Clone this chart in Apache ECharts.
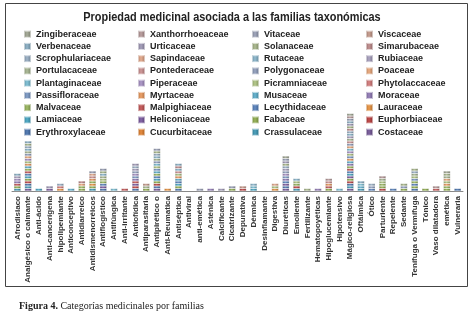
<!DOCTYPE html>
<html>
<head>
<meta charset="utf-8">
<script src="https://cdn.jsdelivr.net/npm/echarts@6/dist/echarts.min.js"></script>
<style>
  html, body { margin: 0; padding: 0; background: #fff; }
  #chart { width: 476px; height: 313px; }
</style>
</head>
<body>
<div id="chart"></div>
<script>
// categorias del eje x
var categorias = ['Afrodisiaco', 'Analgésico o calmante', 'Anti-ácido', 'Anti-cancerígena', 'hipolipemiante',
  'Anticonceptivo', 'Antidiarreico', 'Antidismenorréicos', 'Antiflogístico', 'Antifúngica', 'Anti-irritante',
  'Antiofídica', 'Antiparasitaria', 'Antipirético o', 'Anti-Reumatica', 'Antiséptica', 'Antiviral',
  'anti-emética', 'Asténica', 'Calcificante', 'Cicatrizante', 'Depurativa', 'Dérmica', 'Desinflamante',
  'Digestiva', 'Diuréticas', 'Emoliente', 'Fertilizante', 'Hematopoyéticas', 'Hipoglucemiante', 'Hipotensivo',
  'Mágico-religiosa', 'Oftálmica', 'Ótico', 'Parturiente', 'Repelente', 'Sedante', 'Tenífuga o Vermífuga',
  'Tónico', 'Vaso dilatadora', 'emética', 'Vulneraria'];

// familias (orden de apilado, de abajo hacia arriba)
var familias = ['Costaceae', 'Crassulaceae', 'Cucurbitaceae', 'Erythroxylaceae', 'Euphorbiaceae', 'Fabaceae',
  'Heliconiaceae', 'Lamiaceae', 'Lauraceae', 'Lecythidaceae', 'Malpighiaceae', 'Malvaceae', 'Moraceae',
  'Musaceae', 'Myrtaceae', 'Passifloraceae', 'Phytolaccaceae', 'Picramniaceae', 'Piperaceae', 'Plantaginaceae',
  'Poaceae', 'Polygonaceae', 'Pontederaceae', 'Portulacaceae', 'Rubiaceae', 'Rutaceae', 'Sapindaceae',
  'Scrophulariaceae', 'Simarubaceae', 'Solanaceae', 'Urticaceae', 'Verbenaceae', 'Viscaceae', 'Vitaceae',
  'Xanthorrhoeaceae', 'Zingiberaceae'];

var colores = ['#6a4a90', '#3090b0', '#e07820', '#3a68a8', '#b83030', '#88a840',
  '#704c98', '#38a0c0', '#e88a30', '#4a78b8', '#c04848', '#90b050', '#8870b0',
  '#50a8c8', '#e89050', '#7090c0', '#d07070', '#a8c078', '#a088c0', '#70b8d0',
  '#e8a070', '#8898b8', '#c88888', '#a0b088', '#a098b8', '#80b0c8', '#e0a080',
  '#90a8c0', '#b88080', '#a0b080', '#9890b0', '#80a8c0', '#c09080', '#9098b0',
  '#b09090', '#9aa08a'];

// familias (indice) presentes en cada categoria, una por segmento
var composicion = [
  [1, 5, 10, 12, 18, 24, 31],
  [0, 1, 3, 4, 5, 7, 9, 10, 11, 13, 14, 17, 18, 20, 21, 23, 25, 27, 29, 31],
  [7],
  [6, 30],
  [8, 16, 27],
  [13],
  [5, 11, 20, 28],
  [1, 5, 8, 11, 14, 22, 26, 33],
  [3, 6, 9, 11, 17, 23, 25, 29, 33],
  [19],
  [10],
  [3, 4, 6, 10, 12, 15, 18, 21, 24, 27, 30],
  [5, 23, 32],
  [0, 3, 4, 5, 7, 9, 11, 13, 15, 17, 19, 21, 23, 25, 27, 29, 33],
  [8],
  [3, 5, 7, 9, 13, 14, 17, 22, 25, 28, 31],
  [],
  [33],
  [12],
  [30],
  [5, 33],
  [4, 32],
  [7, 19, 25],
  [],
  [8, 17, 26],
  [0, 3, 6, 9, 12, 15, 18, 21, 24, 27, 29, 30, 33, 35],
  [1, 4, 11, 17, 25],
  [29],
  [12],
  [5, 10, 14, 22, 34],
  [19],
  [0, 1, 3, 4, 5, 6, 7, 9, 10, 11, 12, 13, 14, 15, 17, 18, 19, 20, 21, 22, 23, 24, 25, 27, 28, 29, 30, 31, 33, 34, 35],
  [1, 13, 19, 31],
  [9, 21, 27],
  [4, 5, 11, 17, 23, 34],
  [9],
  [5, 21, 29],
  [3, 5, 9, 11, 15, 17, 23, 27, 29],
  [5],
  [10, 34],
  [5, 11, 14, 17, 20, 23, 29, 35],
  [3]
];

function sombra(hex, f) {
  var n = parseInt(hex.slice(1), 16);
  var r = (n >> 16) & 255, g = (n >> 8) & 255, b = n & 255;
  function m(v) { return Math.max(0, Math.min(255, Math.round(f < 0 ? v * (1 + f) : v + (255 - v) * f))); }
  return 'rgb(' + m(r) + ',' + m(g) + ',' + m(b) + ')';
}

var myChart = echarts.init(document.getElementById('chart'));

var series = familias.map(function (fam, i) {
  return {
    name: fam,
    type: 'bar',
    stack: 'total',
    barWidth: 7,
    emphasis: { disabled: true },
    itemStyle: {
      color: new echarts.graphic.LinearGradient(0, 0, 1, 0, [
        { offset: 0, color: sombra(colores[i], -0.25) },
        { offset: 0.45, color: sombra(colores[i], 0.15) },
        { offset: 1, color: sombra(colores[i], -0.3) }
      ]),
      borderColor: 'rgba(255,255,255,0.55)',
      borderWidth: 0.5
    },
    data: composicion.map(function (lista) {
      var n = lista.filter(function (x) { return x === i; }).length;
      return n || '-';
    })
  };
});

option = {
  backgroundColor: '#fff',
  animation: false,
  title: {
    text: '{b|Figura 4.} Categorías medicinales por familias',
    left: 14,
    top: 296,
    textStyle: {
      fontFamily: "'Liberation Serif', serif",
      fontWeight: 'normal',
      fontSize: 10,
      color: '#222',
      rich: {
        b: { fontFamily: "'Liberation Serif', serif", fontWeight: 'bold', fontSize: 10, color: '#222' }
      }
    }
  },
  legend: {
    data: familias.slice().reverse(),
    left: 18,
    top: 23,
    width: 460,
    itemWidth: 7,
    itemHeight: 7,
    itemGap: 0,
    icon: 'rect',
    selectedMode: false,
    textStyle: {
      fontFamily: "'Liberation Sans', Arial, sans-serif",
      fontWeight: 'bold',
      fontSize: 9,
      color: '#222',
      width: 101,
      lineHeight: 12.25,
      overflow: 'truncate'
    }
  },
  grid: {
    left: 12,
    right: 13,
    top: 111,
    bottom: 122,
    outerBoundsMode: 'none'
  },
  graphic: [{
    type: 'rect',
    shape: { x: 5.5, y: 3.5, width: 462, height: 283 },
    style: { fill: 'none', stroke: '#444', lineWidth: 1 },
    silent: true
  }, {
    type: 'text',
    x: 232,
    y: 17,
    scaleX: 0.84,
    silent: true,
    style: {
      text: 'Propiedad medicinal asociada a las familias taxonómicas',
      x: 0,
      y: 0,
      align: 'center',
      verticalAlign: 'middle',
      font: "bold 13px 'Liberation Sans', Arial, sans-serif",
      fill: '#222'
    }
  }],
  xAxis: {
    type: 'category',
    data: categorias,
    axisLine: { lineStyle: { color: '#888' } },
    axisTick: { length: 4, lineStyle: { color: '#888' } },
    axisLabel: {
      interval: 0,
      rotate: 90,
      margin: 5,
      fontFamily: "'Liberation Sans', Arial, sans-serif",
      fontWeight: 'bold',
      fontSize: 8,
      color: '#333'
    }
  },
  yAxis: {
    type: 'value',
    min: 0,
    max: 32,
    show: false
  },
  series: series
};

myChart.setOption(option);
window.addEventListener('resize', function () {
  myChart.resize();
});
</script>
</body>
</html>
